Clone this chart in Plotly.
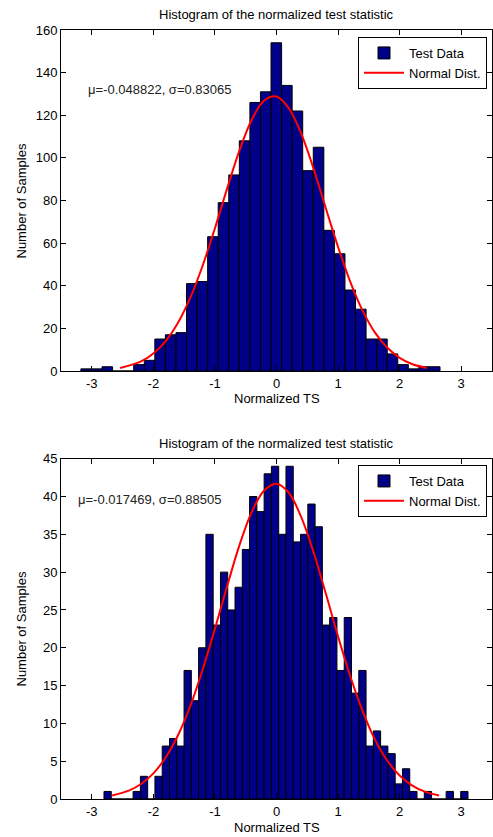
import numpy as np
import plotly.graph_objects as go

# ---------------- data ----------------
top_counts = [1, 1, 2, 0, 0, 3, 5, 15, 17, 18, 41, 42, 63, 79, 92, 108, 126, 131,
              154, 134, 122, 94, 105, 66, 55, 38, 29, 15, 15, 8, 3, 1, 2, 2]
top_data_min, top_data_max = -3.177, 2.656
top_curve_x = [-2.54, -2.2, -2.0, -1.8, -1.6, -1.4, -1.2, -1.0, -0.8, -0.6, -0.4, -0.2,
               0.0, 0.2, 0.4, 0.6, 0.8, 1.0, 1.2, 1.4, 1.6, 1.8, 2.0, 2.2, 2.44]
top_curve_y = [1.4, 4.5, 8.2, 14.0, 22.6, 34.4, 49.4, 67.0, 85.8, 103.6, 118.0, 126.9,
               128.8, 123.3, 111.5, 95.1, 76.5, 58.2, 41.7, 28.2, 18.0, 10.9, 6.2, 3.3, 1.45]
top_label = "μ=-0.048822, σ=0.83065"

bot_counts = [1, 0, 0, 0, 1, 3, 0, 3, 7, 8, 7, 17, 13, 20, 35, 23, 30, 25, 28, 33,
              40, 38, 43, 44, 35, 44, 34, 35, 39, 36, 23, 24, 17, 24, 14, 17, 7, 9, 7, 6,
              2, 4, 1, 0, 1, 0, 0, 1, 0, 1]
bot_data_min, bot_data_max = -2.802, 3.110
bot_curve_x = [-2.67, -2.4, -2.2, -2.0, -1.8, -1.6, -1.4, -1.2, -1.0, -0.8, -0.6, -0.4, -0.2,
               0.0, 0.2, 0.4, 0.6, 0.8, 1.0, 1.2, 1.4, 1.6, 1.8, 2.0, 2.2, 2.4, 2.64]
bot_curve_y = [0.47, 1.11, 1.99, 3.39, 5.49, 8.43, 12.3, 17.1, 22.5, 28.2, 33.6, 38.0, 40.8,
               41.7, 40.5, 37.3, 32.7, 27.2, 21.5, 16.2, 11.6, 7.85, 5.06, 3.10, 1.81, 1.00, 0.46]
bot_label = "μ=-0.017469, σ=0.88505"

x_tick_vals = [-3, -2, -1, 0, 1, 2, 3]
x_tick_text = ["-3", "-2", "-1", "0", "1", "2", "3"]
title_text = "Histogram of the normalized test statistic"
x_title = "Normalized TS"
y_title = "Number of Samples"

# ---------------- figure ----------------
FONT = "Liberation Sans, Arial, sans-serif"
FS = 13
BAR_COLOR = "#000088"


def bin_centers(lo, hi, n):
    w = (hi - lo) / n
    return lo + w * (np.arange(n) + 0.5), w


tc, tw = bin_centers(top_data_min, top_data_max, len(top_counts))
bc, bw = bin_centers(bot_data_min, bot_data_max, len(bot_counts))

fig = go.Figure()
fig.add_trace(go.Bar(x=tc, y=top_counts, width=tw, name="Test Data",
                     marker=dict(color=BAR_COLOR, line=dict(color="black", width=1)),
                     xaxis="x", yaxis="y", legend="legend"))
fig.add_trace(go.Scatter(x=top_curve_x, y=top_curve_y, mode="lines", name="Normal Dist.",
                         line=dict(color="red", width=2, shape="spline"),
                         xaxis="x", yaxis="y", legend="legend"))
fig.add_trace(go.Bar(x=bc, y=bot_counts, width=bw, name="Test Data",
                     marker=dict(color=BAR_COLOR, line=dict(color="black", width=1)),
                     xaxis="x2", yaxis="y2", legend="legend2"))
fig.add_trace(go.Scatter(x=bot_curve_x, y=bot_curve_y, mode="lines", name="Normal Dist.",
                         line=dict(color="red", width=2, shape="spline"),
                         xaxis="x2", yaxis="y2", legend="legend2"))

W, H = 493, 837
ML, MR, MT, MB = 61, 1, 30, 38
ph = H - MT - MB


def py(px):
    return (H - MB - px) / ph


def px_x(px):
    return (px - ML) / (W - ML - MR)


axis_common = dict(showline=True, linecolor="black", linewidth=1, mirror="ticks",
                   ticks="inside", ticklen=5, tickcolor="black", showgrid=False,
                   zeroline=False, tickfont=dict(family=FONT, size=FS, color="black"))

top_dom = [py(371), 1.0]
bot_dom = [0.0, py(458.7)]

leg_common = dict(xanchor="right", yanchor="top", bgcolor="white", bordercolor="black",
                  borderwidth=1, font=dict(family=FONT, size=FS), tracegroupgap=0,
                  itemwidth=40)

fig.update_layout(
    width=W, height=H,
    margin=dict(l=ML, r=MR, t=MT, b=MB),
    paper_bgcolor="white", plot_bgcolor="white",
    font=dict(family=FONT, size=FS, color="black"),
    barmode="overlay",
    xaxis=dict(domain=[0, 1], range=[-3.5, 3.5], tickvals=x_tick_vals, ticktext=x_tick_text,
               anchor="y", **axis_common),
    yaxis=dict(domain=top_dom, range=[0, 160], dtick=20, anchor="x", **axis_common),
    xaxis2=dict(domain=[0, 1], range=[-3.5, 3.5], tickvals=x_tick_vals, ticktext=x_tick_text,
                anchor="y2", **axis_common),
    yaxis2=dict(domain=bot_dom, range=[0, 45], dtick=5, anchor="x2", **axis_common),
    legend=dict(x=px_x(487), y=py(37), **leg_common),
    legend2=dict(x=px_x(487), y=py(465), **leg_common),
)

annos = []
for ty, xy, yy in [(15, 398, 201), (443, 827, 629)]:
    annos.append(dict(text=title_text, xref="paper", yref="paper", x=0.5, y=py(ty),
                      xanchor="center", yanchor="middle", showarrow=False,
                      font=dict(family=FONT, size=FS)))
    annos.append(dict(text=x_title, xref="paper", yref="paper", x=0.5, y=py(xy),
                      xanchor="center", yanchor="middle", showarrow=False,
                      font=dict(family=FONT, size=FS)))
    annos.append(dict(text=y_title, xref="paper", yref="paper", x=px_x(20.5), y=py(yy),
                      xanchor="center", yanchor="middle", showarrow=False, textangle=-90,
                      font=dict(family=FONT, size=FS)))
annos.append(dict(text=top_label, xref="x", yref="y", x=-3.1, y=132,
                  xanchor="left", yanchor="middle", showarrow=False,
                  font=dict(family=FONT, size=FS, color="#222")))
annos.append(dict(text=bot_label, xref="x2", yref="y2", x=-3.25, y=39.6,
                  xanchor="left", yanchor="middle", showarrow=False,
                  font=dict(family=FONT, size=FS, color="#222")))
fig.update_layout(annotations=annos)

fig.write_html("out.html",
               config={"displayModeBar": False},
               post_script="document.body.style.margin='0px';"
                           "document.body.style.overflow='hidden';")
